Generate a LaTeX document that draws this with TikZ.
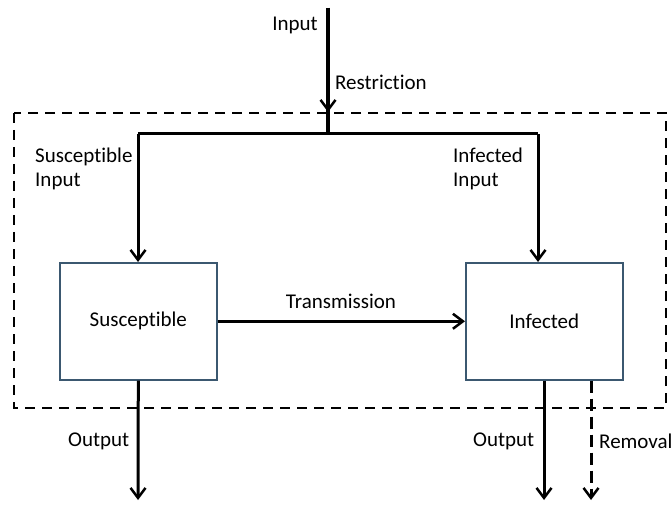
\documentclass[tikz,border=0pt]{standalone}
\usepackage{fontspec}
\setmainfont[Ligatures=NoCommon]{Carlito}
\usetikzlibrary{arrows.meta}
\begin{document}
\begin{tikzpicture}[x=1pt,y=-1pt,
  lbl/.style={font=\fontsize{21}{24}\selectfont, inner sep=0pt},
  compbox/.style={draw=boxblue, line width=1.6pt, minimum width=157pt, minimum height=117pt, inner sep=0pt, font=\fontsize{21}{24}\selectfont},
  flow/.style={line width=3pt, -{Straight Barb[length=10pt,width=15pt,line width=2.5pt]}},
  plain/.style={line width=3pt},
  bound/.style={line width=2.3pt, dash pattern=on 10pt off 7pt}
]
\definecolor{boxblue}{HTML}{3B5870}
\useasboundingbox (0,0) rectangle (672,505);
\draw[bound] (14,113) rectangle (666,408);
\node[compbox, anchor=north west] (S) at (59,262) {Susceptible};
\node[compbox, anchor=north west] (I) at (465,262) {Infected};
\coordinate (top) at (328,8);
\coordinate (tip) at (328,112);
\coordinate (j) at (328,134);
\coordinate (lc) at (138,134);
\coordinate (rc) at (538,134);
\coordinate (lo) at (138,500);
\coordinate (ro) at (544,500);
\coordinate (rm) at (591,500);
\draw[line width=4.5pt] (top) -- (j);
\draw[line width=4.5pt, -{Straight Barb[length=10pt,width=15pt,line width=2.5pt]}] (top) -- (tip);
\draw[plain] (lc) -- (rc);
\draw[flow] (lc) -- (lc |- S.north);
\draw[flow] (rc) -- (rc |- I.north);
\draw[flow] (S.east) -- (I.west);
\draw[flow] (S.south) -- (lo);
\draw[flow] (ro |- I.south) -- (ro);
\draw[line width=3pt, dash pattern=on 12pt off 6pt, -{Straight Barb[length=10pt,width=15pt,line width=2.5pt]}] (rm |- I.south) -- (rm);
\node[lbl, anchor=east] (tin) at (318,25) {Input};
\node[lbl, anchor=west] (tre) at (335,82) {Restriction};
\node[lbl, anchor=west, align=left] (tsi) at (35,169) {Susceptible\\Input};
\node[lbl, anchor=west, align=left] (tii) at (453,169) {Infected\\Input};
\node[lbl] (ttr) at (341,301) {Transmission};
\node[lbl, anchor=west] (to1) at (68,441) {Output};
\node[lbl, anchor=west] (to2) at (473,441) {Output};
\node[lbl, anchor=west] (trm) at (599,441) {Removal};
\end{tikzpicture}
\end{document}
